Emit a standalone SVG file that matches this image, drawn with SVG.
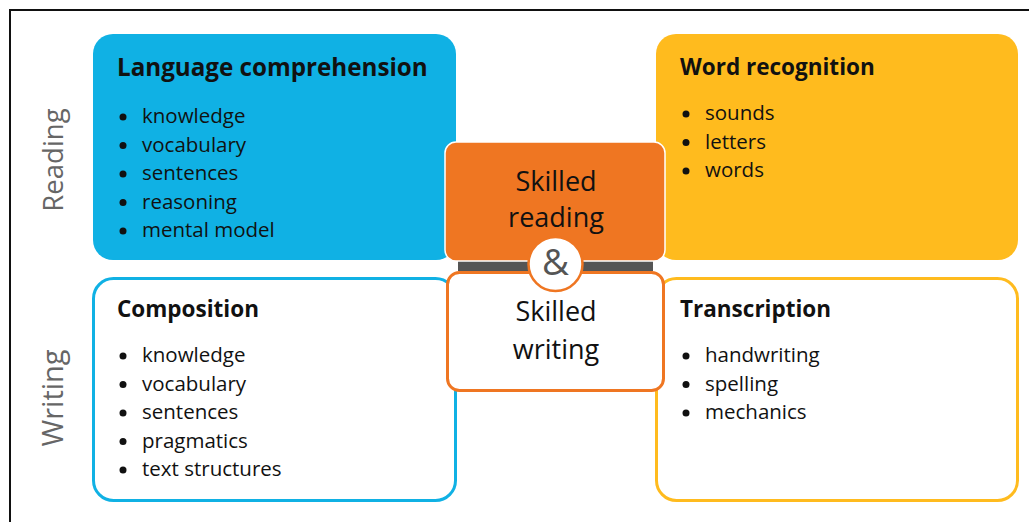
<svg xmlns="http://www.w3.org/2000/svg" width="1029" height="522" viewBox="0 0 1029 522">
<style>
  text { font-family: "Open Sans", "Liberation Sans", sans-serif; fill: #111; }
  .title { font-size: 22.5px; font-weight: bold; }
  .item { font-size: 20.5px; }
  .side { font-size: 27.5px; fill: #666; text-anchor: middle; }
  .center { font-size: 27px; text-anchor: middle; }
  .dot { fill: #111; }
</style>
<rect width="1029" height="522" fill="#fff"/>
<path d="M10,522 V10 H1029" fill="none" stroke="#111" stroke-width="2"/>

<g id="label-reading"><text class="side" transform="translate(63,160) rotate(-90)">Reading</text></g>
<g id="label-writing"><text class="side" transform="translate(63,398) rotate(-90)" style="font-size:29px">Writing</text></g>

<g id="language-comprehension">
  <rect x="93" y="34" width="363" height="226" rx="20" fill="#10B1E4"/>
  <text class="title" x="117" y="76" style="font-size:24.2px">Language comprehension</text>
  <circle class="dot" cx="123" cy="117" r="3.5"/><text class="item" x="142" y="123">knowledge</text>
  <circle class="dot" cx="123" cy="145.5" r="3.5"/><text class="item" x="142" y="151.5">vocabulary</text>
  <circle class="dot" cx="123" cy="174" r="3.5"/><text class="item" x="142" y="180">sentences</text>
  <circle class="dot" cx="123" cy="202.5" r="3.5"/><text class="item" x="142" y="208.5">reasoning</text>
  <circle class="dot" cx="123" cy="231" r="3.5"/><text class="item" x="142" y="237">mental model</text>
</g>

<g id="word-recognition">
  <rect x="656" y="34" width="362" height="226" rx="20" fill="#FFBB1E"/>
  <text class="title" x="680" y="75">Word recognition</text>
  <circle class="dot" cx="686" cy="114" r="3.5"/><text class="item" x="705" y="120">sounds</text>
  <circle class="dot" cx="686" cy="142.5" r="3.5"/><text class="item" x="705" y="148.5">letters</text>
  <circle class="dot" cx="686" cy="171" r="3.5"/><text class="item" x="705" y="177">words</text>
</g>

<g id="composition">
  <rect x="93.5" y="278.5" width="362" height="222" rx="20" fill="#fff" stroke="#10B1E4" stroke-width="3"/>
  <text class="title" x="117" y="316.5">Composition</text>
  <circle class="dot" cx="123" cy="356" r="3.5"/><text class="item" x="142" y="362">knowledge</text>
  <circle class="dot" cx="123" cy="384.5" r="3.5"/><text class="item" x="142" y="390.5">vocabulary</text>
  <circle class="dot" cx="123" cy="413" r="3.5"/><text class="item" x="142" y="419">sentences</text>
  <circle class="dot" cx="123" cy="441.5" r="3.5"/><text class="item" x="142" y="447.5">pragmatics</text>
  <circle class="dot" cx="123" cy="470" r="3.5"/><text class="item" x="142" y="476">text structures</text>
</g>

<g id="transcription">
  <rect x="656.5" y="278.5" width="361" height="222" rx="20" fill="#fff" stroke="#FFBB1E" stroke-width="3"/>
  <text class="title" x="680" y="316.5">Transcription</text>
  <circle class="dot" cx="686" cy="356" r="3.5"/><text class="item" x="705" y="362">handwriting</text>
  <circle class="dot" cx="686" cy="384.5" r="3.5"/><text class="item" x="705" y="390.5">spelling</text>
  <circle class="dot" cx="686" cy="413" r="3.5"/><text class="item" x="705" y="419">mechanics</text>
</g>

<g id="connectors">
  <rect x="458" y="261" width="195" height="10" fill="#555"/>
</g>

<g id="skilled-reading">
  <rect x="445" y="142" width="220" height="119" rx="11" fill="#EF7622" stroke="#fff" stroke-width="1.5"/>
  <text class="center" x="556" y="191">Skilled</text>
  <text class="center" x="556" y="227">reading</text>
</g>

<g id="skilled-writing">
  <rect x="447.5" y="272.5" width="216" height="118" rx="12" fill="#fff" stroke="#EF7622" stroke-width="3"/>
  <text class="center" x="556" y="321">Skilled</text>
  <text class="center" x="556" y="359">writing</text>
</g>

<g id="ampersand">
  <circle cx="555.5" cy="264" r="27" fill="#fff" stroke="#EF7622" stroke-width="2.5"/>
  <text x="555.5" y="275" font-size="37" text-anchor="middle" style="fill:#555">&amp;</text>
</g>
</svg>
